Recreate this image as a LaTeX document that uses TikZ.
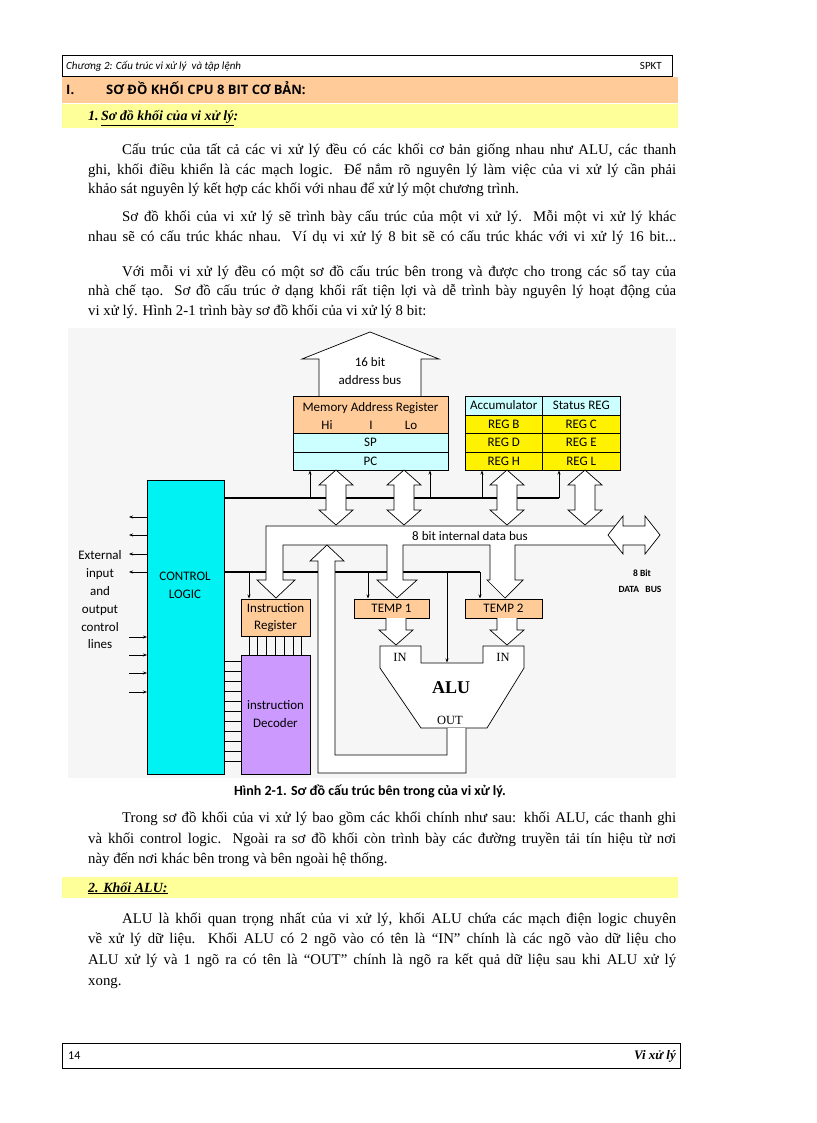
\documentclass[tikz,border=0pt]{standalone}
\usepackage{fontspec}
\setmainfont{Liberation Serif}
\newfontfamily\dsf{Carlito}
\newfontfamily\hsf{Open Sans}
\usetikzlibrary{arrows.meta}
\definecolor{peach}{HTML}{FFCC99}
\definecolor{lyel}{HTML}{FFFF99}
\definecolor{lcyan}{HTML}{CCFFFF}
\definecolor{cyanb}{HTML}{00F2F2}
\definecolor{purp}{HTML}{CC99FF}
\newcommand\fl[4]{\node[anchor=base west,inner sep=0] at (#1,#2) {\makebox[#3pt][s]{#4}};}
\newcommand\lnl[3]{\node[anchor=base west,inner sep=0] at (#1,#2) {#3};}
\begin{document}
\begin{tikzpicture}[x=1pt,y=-1pt,
  every node/.style={inner sep=0},
  body/.style={font=\fontsize{14.8}{20}\selectfont},
  dt/.style={font=\dsf\fontsize{13}{15}\selectfont},
  box/.style={draw,line width=0.7pt},
  hol/.style={draw,fill=white,line width=0.7pt},
  cl/.style={line width=2.4pt},
  sa/.style={line width=0.7pt,-{Stealth[length=4pt,width=3pt]}},
  ln/.style={line width=0.7pt}]
\useasboundingbox (0,0) rectangle (816,1123);
\fill[white] (0,0) rectangle (816,1123);
% header
\node[draw,line width=0.6pt,minimum width=610,minimum height=21] (hdr) at (367,65.5) {};
\draw[line width=1.6pt] (672.5,55) -- (672.5,77);
\node[anchor=west,font=\dsf\itshape\fontsize{11}{12}\selectfont] (hdrl) at (66,66) {Chương 2: Cấu trúc vi xử lý\ \ và tập lệnh};
\node[anchor=east,font=\dsf\fontsize{11}{12}\selectfont] (hdrr) at (662,66) {SPKT};
\fill[peach] (62,77) rectangle (678,103);
\node[anchor=base west,font=\hsf\bfseries\fontsize{13}{14}\selectfont] (h1a) at (66,95) {I.};
\node[anchor=base west,font=\hsf\bfseries\fontsize{13}{14}\selectfont] (h1b) at (106,95) {SƠ ĐỒ KHỐI CPU 8 BIT CƠ BẢN:};
\fill[lyel] (62,104) rectangle (678,128);
\node[anchor=base west,font=\bfseries\itshape\fontsize{14}{16}\selectfont] (h2) at (88,121) {1.\,\underline{Sơ đồ khối của vi xử lý}:};
% paragraphs
\begin{scope}[body]
\fl{122}{155}{554}{Cấu trúc của tất cả các vi xử lý  đều có các khối cơ bản giống nhau như ALU, các thanh}
\fl{88}{175}{588}{ghi, khối điều khiển là các mạch logic. Để nắm rõ nguyên lý làm việc của vi xử lý cần phải}
\lnl{88}{194}{khảo sát nguyên lý kết hợp các khối với nhau để xử lý một chương trình.}
\fl{122}{222}{554}{Sơ đồ khối của vi xử lý sẽ trình bày cấu trúc của một vi xử lý. Mỗi một vi xử lý khác}
\fl{88}{241}{588}{nhau sẽ có cấu trúc khác nhau. Ví dụ vi xử lý 8 bit sẽ có cấu trúc khác với vi xử lý 16 bit...}
\fl{122}{276}{554}{Với mỗi vi xử lý đều có một sơ đồ cấu trúc bên trong và được cho trong các sổ tay của}
\fl{88}{295}{588}{nhà chế tạo. Sơ đồ cấu trúc ở dạng khối rất tiện lợi và dễ trình bày nguyên lý hoạt động của}
\lnl{88}{315}{vi xử lý. Hình 2-1 trình bày sơ đồ khối của vi xử lý 8 bit:}
\fl{122}{822}{554}{Trong sơ đồ khối của vi xử lý bao gồm các khối chính như sau: khối ALU, các thanh ghi}
\fl{88}{843}{588}{và khối control logic. Ngoài ra sơ đồ khối còn trình bày các đường truyền tải tín hiệu từ nơi}
\lnl{88}{863}{này đến nơi khác bên trong và bên ngoài hệ thống.}
\fl{122}{923}{554}{ALU là khối quan trọng nhất của vi xử lý, khối ALU chứa các mạch điện logic chuyên}
\fl{88}{943}{588}{về xử lý dữ liệu. Khối ALU có 2 ngõ vào có tên là “IN” chính là các ngõ vào dữ liệu cho}
\fl{88}{964}{588}{ALU xử lý và 1 ngõ ra có tên là “OUT” chính là ngõ ra kết quả dữ liệu sau khi ALU xử lý}
\lnl{88}{985}{xong.}
\end{scope}
\fill[lyel] (62,877) rectangle (678,898);
\node[anchor=base west,font=\bfseries\itshape\fontsize{14}{16}\selectfont] (h3) at (88,892) {\underline{2. Khối ALU:}};
% footer
\node[draw,line width=0.6pt,minimum width=618,minimum height=25] (ftr) at (371,1055.5) {};
\node[anchor=west,font=\dsf\fontsize{12}{13}\selectfont] (pg) at (68,1056) {14};
\node[anchor=east,font=\bfseries\itshape\fontsize{13}{14}\selectfont] (ft) at (676,1056) {Vi xử lý};
% diagram background
\fill[gray!7] (68,328) rectangle (676,778);
% address bus arrow
\draw[hol] (319,396) -- (319,359) -- (302,359) -- (370,332) -- (439,359) -- (421,359) -- (421,396);
\node[dt] (ab1) at (370,362) {16 bit};
\node[dt] (ab2) at (370,380) {address bus};
% MAR
\node[box,fill=peach,minimum width=155,minimum height=37] (mar) at (370.5,414.5) {};
\node[dt] (mart) at (370.5,408) {Memory Address Register};
\node[dt] (hi) at (327,425) {Hi};
\node[dt] (ii) at (371,425) {I};
\node[dt] (lo) at (411,425) {Lo};
\node[box,fill=lcyan,minimum width=155,minimum height=19] (sp) at (370.5,442.5) {\dsf\fontsize{13}{15}\selectfont SP};
\node[box,fill=lcyan,minimum width=155,minimum height=18] (pc) at (370.5,461) {\dsf\fontsize{13}{15}\selectfont PC};
% registers
\begin{scope}[every node/.append style={dt,box,minimum width=77.5}]
\node[fill=lcyan,minimum height=19] (acc) at (503.75,405.5) {Accumulator};
\node[fill=lcyan,minimum height=19] (st) at (581.25,405.5) {Status REG};
\node[fill=yellow,minimum height=18] (rb) at (503.75,424) {REG B};
\node[fill=yellow,minimum height=18] (rc) at (581.25,424) {REG C};
\node[fill=yellow,minimum height=19] (rd) at (503.75,442.5) {REG D};
\node[fill=yellow,minimum height=19] (re) at (581.25,442.5) {REG E};
\node[fill=yellow,minimum height=18] (rh) at (503.75,461) {REG H};
\node[fill=yellow,minimum height=18] (rl) at (581.25,461) {REG L};
\end{scope}
% control logic
\node[box,fill=cyanb,minimum width=77,minimum height=294] (cl) at (185.5,627) {};
\node[dt,align=center,font=\dsf\fontsize{13}{18}\selectfont] (clt) at (185,585) {CONTROL\\LOGIC};
\node[dt,align=center,font=\dsf\fontsize{13}{17.8}\selectfont] (ext) at (100,600) {External\\input\\and\\output\\control\\lines};
\foreach \y in {517,535,554,572} \draw[sa] (147,\y) -- (129,\y);
\foreach \y in {637,655,673,692} \draw[sa] (129,\y) -- (147,\y);
% control lines
\draw[cl] (224,498) -- (559,498);
\foreach \x in {310,430,482,559} \draw[sa] (\x,498) -- (\x,470.5);
\draw[cl] (224,572) -- (480,572);
\foreach \x in {249,368,480} \draw[sa] (\x,572) -- (\x,598.5);
% IR, temps, decoder
\node[box,fill=peach,minimum width=69,minimum height=37,align=center,font=\dsf\fontsize{13}{17}\selectfont] (ir) at (275.5,617.5) {Instruction\\Register};
\node[box,fill=peach,minimum width=75,minimum height=19,dt] (t1) at (391.5,608.5) {TEMP 1};
\node[box,fill=peach,minimum width=77,minimum height=19,dt] (t2) at (503.5,608.5) {TEMP 2};
\node[box,fill=purp,minimum width=69,minimum height=119,align=center,font=\dsf\fontsize{13}{18}\selectfont] (dec) at (275.5,714.5) {instruction\\Decoder};
\foreach \k in {0,...,10} \draw[ln] (224,661+10*\k) -- (241,661+10*\k);
\foreach \k in {0,...,6} \draw[ln] (249+8.8*\k,636) -- (249+8.8*\k,655);
% internal data bus
\draw[hol] (266,526) -- (623,526) -- (623,545) -- (515,545) -- (515,580) -- (523,580) -- (505,598) -- (487,580) -- (490,580) -- (490,545) -- (403,545) -- (403,580) -- (417,580) -- (397,598) -- (377,580) -- (387,580) -- (387,545) -- (283,545) -- (283,580) -- (295,580) -- (276,598) -- (257,580) -- (266,580) -- cycle;
\node[dt] (ibt) at (470,536) {8 bit internal data bus};
\draw[hol] (608,535) -- (623,516) -- (623,526) -- (645,526) -- (645,516) -- (660,535) -- (645,554) -- (645,545) -- (623,545) -- (623,554) -- cycle;
\node[font=\dsf\bfseries\fontsize{9.5}{11}\selectfont] (db1) at (642,573) {8 Bit};
\node[font=\dsf\bfseries\fontsize{9.5}{11}\selectfont] (db2) at (640,589) {DATA\ \ \ BUS};
% vertical double arrows
\foreach \c in {336,404,507,585}
  \draw[hol] (\c,470) -- (\c+17,485) -- (\c+10,485) -- (\c+10,510) -- (\c+17,510) -- (\c,525) -- (\c-17,510) -- (\c-10,510) -- (\c-10,485) -- (\c-17,485) -- cycle;
% temp -> alu arrows
\foreach \c in {396,507}
  \draw[hol] (\c-10,618) -- (\c-10,630) -- (\c-17,630) -- (\c,645) -- (\c+17,630) -- (\c+10,630) -- (\c+10,618);
% ALU
\draw[hol] (380,646) -- (421,646) -- (421,663) -- (483,663) -- (483,646) -- (524,646) -- (524,668) -- (487,728) -- (421,728) -- (380,668) -- cycle;
\draw[sa] (447,572) -- (447,662.5);
\node[font=\fontsize{12.5}{14}\selectfont] (in1) at (400,657) {IN};
\node[font=\fontsize{12.5}{14}\selectfont] (in2) at (503,657) {IN};
\node[font=\bfseries\fontsize{18}{20}\selectfont] (alu) at (451,688) {ALU};
\node[font=\fontsize{12.5}{14}\selectfont] (out) at (450,720) {OUT};
% feedback arrow
\draw[hol] (466,728) -- (466,773) -- (318,773) -- (318,561) -- (310,561) -- (327,545) -- (344,561) -- (335,561) -- (335,755) -- (447,755) -- (447,728);
% caption
\node[anchor=base,font=\dsf\bfseries\fontsize{14}{15}\selectfont] (cap) at (370,795) {Hình 2-1. Sơ đồ cấu trúc bên trong của vi xử lý.};
\end{tikzpicture}
\end{document}
